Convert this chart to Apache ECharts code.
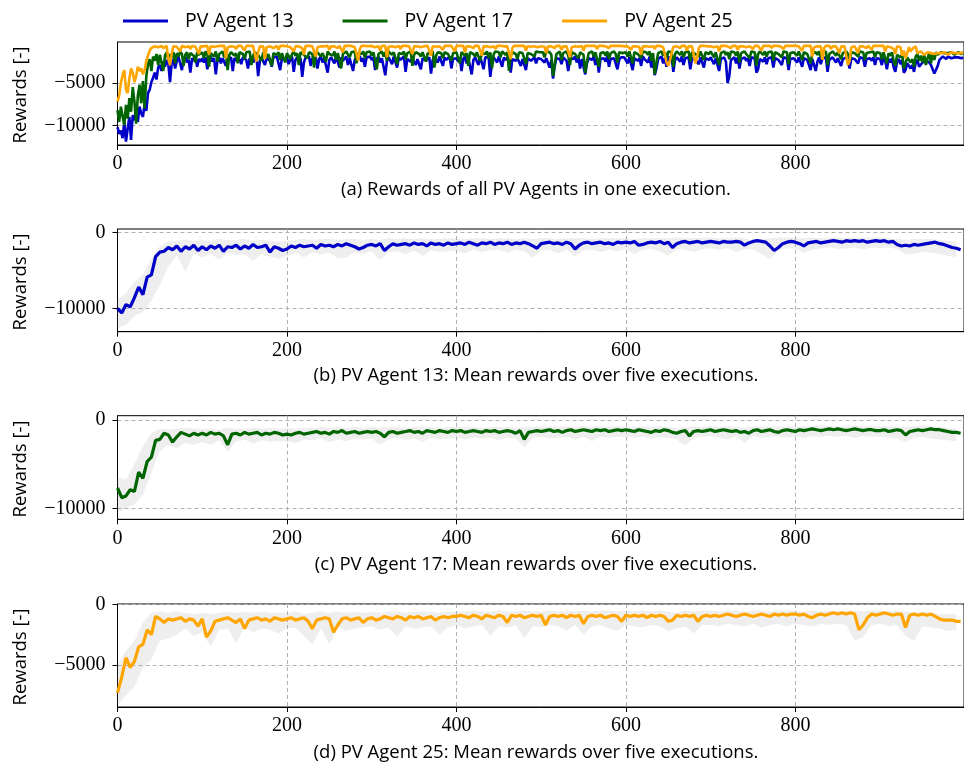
<!DOCTYPE html>
<html><head><meta charset="utf-8">
<script src="https://cdn.jsdelivr.net/npm/echarts@6/dist/echarts.min.js"></script>
<style>html,body{margin:0;padding:0;background:#fff}#c{width:964px;height:763px}</style>
</head><body><div id="c"></div><script>
// ---------- data ----------
const STEP_RUN = 2;      // episode spacing of the single-execution curves (a)
const STEP_MEAN = 5;     // episode spacing of the mean curves (b)-(d)
const STEP_BAND = 10;    // episode spacing of the spread bands
const X_MAX = 999;
const X_TICKS = [0, 200, 400, 600, 800];
const NAMES = ['PV Agent 13', 'PV Agent 17', 'PV Agent 25'];
const Y_LABEL = 'Rewards [-]';
const CAPTIONS = [
  '(a) Rewards of all PV Agents in one execution.',
  '(b) PV Agent 13: Mean rewards over five executions.',
  '(c) PV Agent 17: Mean rewards over five executions.',
  '(d) PV Agent 25: Mean rewards over five executions.'
];
const Y_TICKS = [[-10000, -5000], [-10000, 0], [-10000, 0], [-5000, 0]];
const Y_RANGES = [[-12310, -190], [-13070, 430], [-11245, 487], [-8460, 28]];

// (a) one execution, every 2nd episode
const runA13 = [
-10200,-11000,-10600,-11500,-9600,-11900,-10400,-9000,-11700,-8800,
-9400,-8200,-9600,-7800,-8600,-9000,-7500,-8300,-6200,-5800,
-4900,-4400,-3800,-4600,-3200,-2900,-3600,-2500,-3100,-2300,
-2800,-4900,-2600,-2200,-3300,-2400,-2000,-2700,-3500,-2200,
-1900,-2600,-2300,-3800,-2100,-2400,-2000,-3100,-2200,-2500,
-2100,-2600,-2000,-3400,-2200,-1900,-2500,-2100,-4000,-2300,
-2000,-2700,-2100,-1900,-3000,-2200,-2400,-2000,-3600,-2100,
-1900,-2500,-2200,-2800,-2000,-1900,-2300,-3300,-2100,-2000,
-2600,-2200,-1900,-4200,-2400,-2000,-2200,-2900,-2100,-1900,
-2400,-3100,-2000,-2200,-1900,-2700,-3500,-2100,-2000,-2300,
-2000,-2800,-2200,-1900,-3700,-2300,-2000,-2500,-2100,-4300,
-2600,-2000,-2200,-1900,-3000,-2100,-2400,-2000,-3300,-2200,
-1900,-2600,-2100,-2000,-3800,-2300,-2000,-2200,-2700,-1900,
-2100,-3200,-2000,-2400,-2200,-1900,-2900,-2100,-2000,-3600,
-2300,-2000,-2200,-1900,-2500,-2100,-3100,-2000,-2200,-1900,
-2300,-2000,-3500,-2200,-1900,-2600,-2100,-2000,-4100,-2400,
-2000,-2200,-2800,-1900,-2100,-3200,-2000,-2300,-2100,-1900,
-3700,-2200,-2000,-2500,-2100,-1900,-2900,-2200,-2000,-3400,
-2100,-1900,-2400,-2200,-2000,-3900,-2300,-2000,-2200,-2600,
-1900,-2100,-3000,-2000,-2300,-2100,-1900,-3300,-2200,-2000,
-2100,-2500,-2000,-3600,-2200,-1900,-2700,-2100,-2000,-4000,
-2300,-2000,-2200,-2900,-1900,-2100,-3400,-2000,-2200,-2000,
-4300,-2500,-2000,-2200,-2600,-1900,-2100,-3100,-2000,-2300,
-2100,-1900,-3800,-2200,-2000,-2400,-2100,-1900,-3000,-2200,
-2000,-3500,-2100,-1900,-2400,-2200,-2000,-2700,-2100,-1900,
-2200,-2000,-2600,-2100,-2000,-3200,-2300,-4500,-3000,-2100,
-2000,-2200,-2800,-2000,-1900,-2400,-3600,-2100,-2000,-2200,
-1900,-2600,-2000,-3300,-2200,-2000,-4000,-2700,-2100,-2000,
-2300,-1900,-2900,-2100,-3800,-2200,-2000,-2100,-2500,-1900,
-3100,-2200,-2000,-2100,-1900,-3400,-2300,-2000,-2200,-2000,
-2100,-2700,-2000,-2200,-3500,-2100,-2000,-2400,-2100,-3000,
-1900,-2200,-2000,-2600,-1900,-3200,-2200,-4100,-3300,-2200,
-2000,-1900,-2700,-2100,-3100,-2000,-2200,-2000,-3700,-2300,
-2000,-2100,-2500,-1900,-2900,-2100,-2200,-2000,-3400,-2100,
-1900,-2300,-2100,-2800,-2000,-2200,-3200,-2100,-2000,-2300,
-2000,-2200,-2800,-2100,-2000,-3600,-2200,-2100,-2000,-2500,
-5000,-4200,-2300,-2100,-2000,-2700,-2000,-3300,-2200,-2100,
-2000,-2400,-2100,-3000,-2000,-2200,-2100,-3800,-3400,-2200,
-2000,-2500,-2000,-2800,-2100,-2200,-2000,-3200,-2100,-2000,
-2300,-2100,-2900,-2000,-2200,-2100,-3500,-2200,-2000,-2100,
-2100,-2600,-2000,-2200,-3100,-2100,-2000,-2300,-2100,-3500,
-2200,-2000,-3600,-2500,-2000,-2800,-2100,-2200,-2000,-3700,
-2300,-2100,-2000,-2200,-2600,-2100,-2000,-3000,-2200,-2100,
-2000,-2400,-3300,-2100,-2000,-2200,-2100,-2700,-2000,-2200,
-2100,-3100,-2200,-2000,-2100,-2400,-2000,-2900,-2100,-2000,
-2200,-2900,-2100,-2400,-3400,-2200,-2600,-2100,-3200,-3700,
-2500,-2200,-2800,-2300,-3800,-3500,-2700,-2500,-3300,-2900,
-3700,-2600,-2300,-3100,-3000,-2600,-2800,-2400,-2300,-2600,
-2900,-3400,-3900,-4000,-3000,-2300,-2100,-1900,-2000,-2200,
-1900,-2000,-2100,-1900,-2000,-2200,-2000,-1900,-2100,-2000
];
const runA17 = [
-8200,-9600,-7800,-8900,-10000,-7600,-9200,-6800,-8400,-5500,
-7200,-9800,-6500,-5200,-7400,-4800,-8000,-4200,-2800,-2200,
-3600,-1900,-2400,-1600,-2900,-1700,-1500,-3600,-1800,-1400,
-2300,-1600,-2000,-1400,-2700,-1500,-1900,-1300,-1600,-3000,
-1700,-1400,-2200,-1500,-1300,-1800,-2600,-1400,-1700,-1500,
-1400,-2100,-1300,-1600,-3100,-1500,-1400,-1900,-1300,-2500,
-1600,-1400,-1300,-2000,-1500,-3500,-1700,-1400,-1300,-1800,
-1500,-2700,-1400,-1300,-1600,-2200,-1400,-1500,-1300,-2900,
-1800,-1400,-1300,-1700,-1500,-2400,-1400,-1300,-2000,-1600,
-1400,-3000,-1500,-1300,-1700,-1400,-2300,-1500,-1600,-2600,
-1500,-1400,-2200,-1600,-1300,-1800,-1500,-2900,-1400,-1300,
-1700,-1500,-2100,-1400,-1300,-1600,-3200,-1700,-1400,-1300,
-1900,-1500,-1400,-2500,-1300,-1600,-1400,-1800,-1300,-2300,
-1500,-1400,-3300,-1600,-1400,-1300,-1700,-2000,-1400,-1500,
-1300,-2700,-1500,-1400,-1600,-1300,-2100,-1400,-1500,-1300,
-1800,-1400,-1300,-3400,-1600,-1500,-1300,-1900,-1400,-2400,
-1300,-1500,-1700,-1400,-1300,-2800,-1500,-1400,-1600,-1300,
-2200,-1500,-1400,-1300,-3000,-1700,-1400,-1300,-1600,-1900,
-1400,-1300,-2500,-1500,-1400,-1600,-1300,-3200,-1800,-1400,
-1300,-1500,-2100,-1400,-1300,-1600,-1400,-2400,-1500,-1300,
-1400,-1600,-2700,-1400,-1300,-1800,-1500,-3000,-1400,-1300,
-1600,-1900,-1400,-1300,-2400,-1500,-1400,-1600,-1300,-2100,
-1400,-3300,-1600,-1300,-1500,-1400,-2000,-1300,-1500,-1700,
-1400,-3600,-1800,-1400,-1300,-1600,-2200,-1400,-1300,-1500,
-1400,-2800,-1500,-1300,-1600,-1400,-1900,-1300,-1500,-1400,
-1600,-1400,-2000,-1300,-1500,-1400,-1700,-4200,-2800,-1600,
-1400,-1300,-2300,-1500,-1400,-1300,-1800,-2900,-1400,-1300,
-1600,-1500,-2100,-1400,-1300,-1700,-3800,-2500,-1500,-1400,
-1300,-1900,-1400,-1600,-3100,-1500,-1300,-1400,-1800,-1300,
-2200,-1500,-1400,-1300,-1600,-2600,-1400,-1300,-1500,-1400,
-1400,-1900,-1300,-1500,-2700,-1400,-1300,-1600,-1400,-2100,
-1300,-1500,-1400,-1700,-1300,-2400,-1500,-4000,-2600,-1500,
-1400,-1300,-1800,-1400,-2200,-1300,-1500,-1400,-3100,-1600,
-1300,-1400,-1700,-1300,-2000,-1400,-1500,-1300,-2500,-1400,
-1300,-1600,-1400,-1900,-1300,-1500,-2300,-1400,-1300,-1600,
-1300,-1500,-2000,-1400,-1300,-2900,-1500,-1400,-1300,-1700,
-1400,-2200,-1300,-1500,-1400,-1800,-1300,-2600,-1500,-1400,
-1300,-1600,-1400,-2100,-1300,-1500,-1400,-3000,-1600,-1300,
-1400,-1700,-1300,-1900,-1400,-1500,-1300,-2400,-1400,-1300,
-1600,-1400,-2000,-1300,-1500,-1400,-2800,-1500,-1300,-1400,
-1400,-1800,-1300,-1500,-2300,-1400,-1300,-1600,-1400,-2700,
-1500,-1300,-1400,-1700,-1300,-2000,-1400,-1500,-1300,-2900,
-1600,-1400,-1300,-1500,-1800,-1400,-1300,-2200,-1500,-1400,
-1300,-1600,-2500,-1400,-1300,-1500,-1400,-1900,-1300,-1500,
-1400,-2300,-1500,-1300,-1400,-1600,-1300,-2000,-1400,-1300,
-1500,-2200,-1400,-1600,-2700,-1500,-1800,-1400,-2400,-3000,
-1700,-1500,-2000,-1600,-3300,-2700,-2000,-1800,-2600,-2200,
-3100,-1900,-1600,-2400,-1800,-2600,-1700,-2900,-2100,-1500,
-2700,-1600,-2300,-1400,-1700,-1500,-1400,-1600,-1500,-1400,
-1500,-1600,-1400,-1500,-1700,-1500,-1400,-1500,-1600,-1400
];
const runA25 = [
-7200,-6500,-5000,-4100,-3500,-5800,-6200,-4500,-3300,-3800,
-4900,-4200,-3100,-3600,-3300,-4000,-3500,-2400,-1800,-1200,
-900,-750,-700,-650,-800,-700,-650,-900,-700,-650,
-2200,-2900,-1500,-700,-650,-750,-700,-1300,-650,-700,
-800,-650,-700,-1000,-650,-700,-750,-650,-1600,-700,
-650,-700,-800,-650,-1700,-700,-650,-750,-650,-700,
-900,-650,-700,-650,-2100,-800,-650,-700,-650,-750,
-1000,-650,-700,-650,-700,-1200,-650,-750,-650,-700,
-650,-800,-2500,-1400,-700,-650,-700,-2200,-800,-650,
-700,-650,-900,-700,-650,-1100,-650,-700,-650,-750,
-700,-650,-800,-650,-1300,-700,-650,-700,-650,-900,
-1700,-650,-700,-650,-750,-700,-650,-1900,-800,-650,
-700,-650,-700,-800,-650,-1100,-700,-650,-700,-650,
-900,-650,-700,-1400,-650,-700,-650,-750,-650,-700,
-800,-650,-2400,-1000,-650,-700,-650,-750,-700,-650,
-650,-700,-800,-650,-700,-1200,-650,-700,-650,-2000,
-750,-650,-700,-650,-800,-700,-650,-1000,-650,-700,
-650,-750,-700,-650,-1600,-700,-650,-700,-650,-800,
-650,-700,-900,-650,-700,-1800,-700,-650,-750,-650,
-700,-650,-1100,-650,-700,-650,-800,-650,-700,-1300,
-650,-700,-650,-800,-650,-1400,-700,-650,-700,-650,
-900,-650,-700,-650,-750,-1800,-700,-650,-700,-650,
-800,-650,-700,-1000,-650,-700,-650,-750,-700,-650,
-700,-650,-2200,-900,-650,-700,-650,-800,-650,-700,
-650,-1200,-700,-650,-750,-650,-700,-650,-800,-650,
-700,-650,-750,-1500,-700,-650,-700,-650,-900,-650,
-700,-650,-1100,-700,-650,-700,-650,-2000,-800,-650,
-700,-650,-750,-700,-650,-1200,-650,-700,-650,-800,
-650,-700,-650,-1000,-650,-700,-650,-750,-700,-650,
-900,-650,-700,-650,-800,-650,-700,-650,-750,-700,
-650,-700,-650,-1100,-700,-650,-700,-650,-800,-1700,
-700,-650,-700,-650,-750,-650,-700,-1000,-650,-700,
-650,-700,-800,-650,-2600,-3000,-2300,-1500,-750,-650,
-700,-650,-900,-650,-700,-650,-1200,-700,-650,-700,
-650,-2700,-2000,-900,-650,-700,-650,-750,-700,-650,
-700,-650,-800,-650,-700,-1300,-650,-700,-650,-750,
-700,-650,-900,-650,-700,-650,-1100,-700,-650,-700,
-650,-800,-650,-700,-650,-1000,-650,-700,-650,-750,
-1200,-650,-700,-650,-700,-650,-900,-650,-700,-650,
-800,-700,-650,-1000,-650,-700,-650,-750,-650,-700,
-650,-800,-700,-650,-1200,-650,-700,-650,-750,-650,
-1900,-800,-650,-700,-650,-700,-2300,-900,-650,-700,
-650,-1000,-700,-650,-700,-650,-1500,-700,-650,-700,
-650,-2900,-2400,-800,-650,-700,-650,-1500,-700,-650,
-700,-650,-900,-650,-700,-1100,-650,-700,-650,-750,
-650,-700,-650,-1300,-700,-650,-800,-650,-1000,-1600,
-700,-650,-800,-1800,-1200,-2100,-1500,-800,-1300,-1000,
-1200,-700,-1500,-1600,-1300,-1400,-1700,-1500,-1400,-1600,
-1500,-1400,-1600,-1700,-1500,-1400,-1500,-1600,-1400,-1500,
-1700,-1500,-1400,-1600,-1500,-1400,-1500,-1600,-1500,-1400
];

// (b)-(d) mean over five executions, every 5th episode
const meanB13 = [
-10000,-10600,-9500,-9800,-8600,-7200,-8200,-5900,-5600,-3200,-2600,-2500,-2000,-2300,-1800,-2500,-1900,-2200,-1700,-2400,
-1900,-2300,-1800,-2100,-1700,-2500,-1900,-2000,-1700,-2200,-1800,-2100,-1600,-2000,-1900,-1700,-2600,-1900,-2100,-2400,
-2200,-1800,-2000,-1700,-1900,-1800,-1700,-2100,-1600,-1800,-1700,-1900,-1600,-1800,-1500,-1700,-1900,-2200,-2000,-1700,
-1600,-1800,-1500,-2400,-1900,-1500,-1700,-1600,-1500,-1700,-1400,-1600,-1500,-1800,-1400,-1600,-1500,-1700,-1400,-1600,
-1500,-1400,-1600,-1300,-1500,-1700,-1400,-1500,-1300,-1600,-1400,-1500,-1300,-1600,-1400,-1500,-1300,-1500,-1800,-2100,
-1500,-1400,-1300,-1500,-1400,-1600,-1300,-1500,-2200,-1700,-1400,-1300,-1500,-1400,-1300,-1500,-1400,-1600,-1300,-1400,
-1300,-1400,-1200,-1700,-1600,-1400,-1300,-1400,-1200,-1500,-1300,-2000,-1500,-1300,-1200,-1400,-1300,-1200,-1400,-1300,
-1200,-1300,-1400,-1200,-1300,-1300,-1200,-1300,-1700,-1400,-1200,-1100,-1200,-1300,-1800,-2400,-2000,-1500,-1300,-1200,
-1300,-1500,-1800,-1400,-1300,-1200,-1400,-1300,-1200,-1100,-1200,-1300,-1100,-1200,-1100,-1200,-1100,-1300,-1200,-1100,
-1200,-1100,-1300,-1200,-1600,-1800,-1700,-1800,-1600,-1700,-1600,-1500,-1400,-1300,-1500,-1600,-1800,-2000,-2100,-2300
];
const meanC17 = [
-7700,-8800,-8600,-7900,-8100,-5900,-6600,-4700,-4200,-2300,-2200,-1500,-1700,-2500,-1900,-1400,-1600,-1800,-1500,-1700,
-1500,-1700,-1400,-1600,-1500,-1800,-2800,-1600,-1500,-1700,-1400,-1600,-1500,-1400,-1700,-1500,-1600,-1400,-1500,-1700,
-1600,-1700,-1500,-1400,-1600,-1500,-1400,-1300,-1500,-1400,-1600,-1300,-1400,-1200,-1500,-1400,-1300,-1500,-1400,-1300,
-1400,-1300,-1500,-1900,-1400,-1300,-1500,-1400,-1300,-1200,-1400,-1300,-1500,-1200,-1300,-1400,-1200,-1300,-1400,-1200,
-1300,-1200,-1400,-1300,-1200,-1300,-1400,-1200,-1300,-1200,-1400,-1300,-1200,-1300,-1500,-1200,-2200,-1400,-1300,-1200,
-1300,-1200,-1100,-1300,-1200,-1400,-1200,-1100,-1300,-1200,-1100,-1200,-1300,-1100,-1200,-1100,-1300,-1200,-1100,-1200,
-1100,-1200,-1300,-1100,-1200,-1300,-1400,-1200,-1300,-1100,-1200,-1400,-1500,-1300,-1200,-1800,-1300,-1200,-1300,-1200,
-1100,-1300,-1200,-1100,-1200,-1300,-1200,-1400,-1300,-1500,-1200,-1100,-1300,-1200,-1100,-1300,-1400,-1200,-1100,-1200,
-1300,-1100,-1200,-1100,-1000,-1100,-1200,-1100,-1000,-1100,-1000,-1100,-1200,-1100,-1000,-1100,-1200,-1100,-1100,-1200,
-1200,-1100,-1300,-1200,-1100,-1200,-1700,-1300,-1200,-1100,-1200,-1100,-1000,-1100,-1100,-1200,-1300,-1400,-1400,-1500
];
const meanD25 = [
-7300,-6000,-4400,-5200,-4700,-3500,-3300,-2100,-2500,-1000,-1200,-1500,-1200,-1300,-1200,-1100,-1400,-1200,-1300,-1800,
-1200,-2700,-2200,-1400,-1300,-1200,-1100,-1300,-1500,-1200,-2000,-1300,-1200,-1100,-1300,-1200,-1400,-1100,-1200,-1300,
-1200,-1100,-1300,-1200,-1100,-1400,-2000,-1300,-1200,-1100,-1200,-2300,-1700,-1200,-1100,-1300,-1200,-1100,-1500,-1200,
-1100,-1300,-1200,-1000,-1100,-1200,-1000,-1100,-1300,-1000,-1100,-1000,-1200,-1100,-1000,-1300,-1100,-1000,-1100,-1000,
-1000,-900,-1000,-1100,-900,-1000,-1200,-900,-1000,-1100,-900,-1000,-1500,-900,-1000,-900,-1100,-1000,-900,-1000,
-900,-1700,-1000,-900,-1000,-900,-1100,-900,-1000,-900,-1600,-1000,-900,-1000,-900,-1100,-1000,-900,-1000,-1400,
-900,-1000,-900,-1000,-900,-1100,-900,-1000,-900,-1000,-1400,-1300,-900,-1000,-900,-1000,-900,-1400,-1000,-900,
-1000,-900,-1000,-900,-800,-900,-1000,-900,-800,-900,-1000,-900,-800,-900,-1000,-800,-900,-800,-900,-800,
-800,-900,-800,-1000,-1100,-900,-800,-900,-800,-700,-800,-700,-800,-700,-800,-2100,-1700,-1100,-800,-900,
-800,-700,-800,-900,-800,-800,-1900,-900,-800,-900,-800,-900,-800,-1000,-1200,-1300,-1300,-1300,-1400,-1400
];

// spread of the five executions (upper / lower envelope), every 10th episode
const upB13 = [
-8800,-8000,-6500,-5500,-3500,-1800,-1200,-1100,-1000,-1100,
-1000,-1100,-900,-1000,-1000,-900,-1100,-1000,-1100,-1200,
-1100,-1000,-900,-1000,-900,-900,-1000,-900,-900,-1000,
-900,-1000,-800,-900,-800,-900,-800,-900,-900,-800,
-800,-900,-800,-800,-900,-800,-800,-900,-800,-900,
-800,-800,-900,-800,-800,-800,-900,-800,-800,-800,
-800,-900,-800,-800,-800,-800,-700,-800,-800,-700,
-700,-800,-800,-700,-800,-1100,-900,-800,-700,-700,
-700,-800,-700,-800,-700,-700,-800,-700,-700,-700,
-700,-800,-900,-1000,-900,-900,-900,-1000,-1100,-1200
];
const loB13 = [
-12600,-12200,-11000,-10500,-9000,-7000,-4500,-3000,-5200,-2800,
-3300,-2800,-3600,-2700,-3000,-2900,-3800,-2800,-3200,-3500,
-3100,-2700,-3300,-2600,-2900,-2700,-3400,-3300,-2600,-2800,
-2500,-3600,-2600,-2500,-2900,-2400,-3100,-2400,-2600,-2500,
-2400,-2800,-2300,-2600,-2400,-2300,-2700,-2300,-2500,-3300,
-2400,-2300,-2800,-2300,-3200,-2400,-2300,-2600,-2300,-2500,
-2200,-2900,-2300,-2200,-2500,-3100,-2200,-2300,-2600,-2200,
-2100,-2300,-2100,-2600,-2200,-2300,-2900,-3500,-2400,-2100,
-2200,-2700,-2300,-2100,-2000,-2200,-2100,-2000,-2300,-2000,
-2100,-2000,-2200,-2900,-2800,-2600,-2700,-2900,-3100,-3300
];
const upC17 = [
-6500,-6800,-5000,-3000,-1500,-1000,-1100,-1000,-900,-1000,
-1000,-1000,-1100,-900,-1000,-1000,-900,-1000,-900,-1000,
-900,-1000,-900,-900,-800,-900,-800,-900,-800,-900,
-800,-900,-800,-800,-900,-800,-800,-800,-900,-800,
-800,-800,-800,-900,-800,-800,-800,-900,-800,-800,
-700,-800,-800,-700,-800,-700,-800,-700,-800,-700,
-700,-800,-700,-800,-700,-800,-900,-800,-700,-800,
-700,-800,-700,-800,-900,-700,-800,-700,-700,-800,
-700,-700,-700,-600,-700,-700,-700,-600,-700,-700,
-700,-700,-800,-800,-700,-600,-700,-800,-900,-1000
];
const loC17 = [
-10500,-10000,-9500,-8500,-6000,-3500,-2800,-3200,-2600,-2800,
-2500,-2800,-2300,-3600,-2400,-2200,-2700,-2300,-2500,-2400,
-2400,-2600,-2200,-2300,-2100,-2500,-2200,-2400,-2100,-2200,
-2100,-2800,-2200,-2000,-2300,-2100,-2500,-2000,-2200,-2100,
-2000,-2200,-2000,-2100,-2000,-2300,-2000,-2100,-3100,-2000,
-1900,-2100,-2000,-1900,-2200,-1900,-2400,-1900,-2000,-1900,
-1900,-2000,-1900,-2100,-1900,-2000,-2200,-2900,-2000,-1900,
-1800,-2000,-2200,-1900,-2600,-1800,-2000,-1900,-1800,-2000,
-1900,-2000,-1800,-1900,-1800,-1900,-1800,-2000,-1800,-1900,
-1900,-2000,-2100,-2500,-2000,-1900,-2100,-2200,-2300,-2400
];
const upD25 = [
-5000,-3800,-3000,-1500,-700,-600,-700,-600,-700,-800,
-700,-800,-700,-600,-700,-600,-700,-600,-700,-700,
-700,-600,-800,-700,-600,-700,-600,-700,-600,-700,
-600,-700,-600,-600,-700,-600,-600,-600,-700,-600,
-600,-600,-500,-600,-600,-500,-600,-600,-500,-600,
-600,-500,-600,-500,-600,-500,-600,-500,-500,-600,
-500,-600,-500,-600,-500,-600,-700,-500,-600,-500,
-500,-600,-500,-500,-600,-500,-500,-600,-500,-500,
-500,-600,-500,-600,-500,-600,-500,-500,-600,-500,
-500,-600,-500,-600,-700,-600,-700,-800,-800,-800
];
const loD25 = [
-8300,-7500,-6800,-5200,-4500,-3000,-2800,-2500,-2000,-2600,
-2300,-3500,-2100,-2000,-3200,-1900,-2300,-2000,-2100,-2400,
-2000,-1900,-2600,-3300,-2000,-3300,-1900,-2200,-2000,-1900,
-1800,-2100,-1900,-2700,-1800,-2000,-1900,-1800,-2500,-1900,
-1700,-2000,-1800,-1700,-2600,-1800,-1900,-1700,-2800,-1800,
-1900,-1700,-1800,-2200,-1700,-2500,-1800,-1700,-2000,-2200,
-1700,-1800,-1900,-1700,-1800,-2200,-2000,-1800,-2400,-1700,
-1700,-1800,-1600,-1700,-1800,-1600,-1900,-1700,-1600,-1800,
-1600,-1700,-1800,-1600,-1700,-1600,-1700,-3000,-2700,-1700,
-1600,-1800,-1700,-2600,-3000,-1800,-1900,-2000,-2200,-2100
];

// ---------- styling ----------
const COLORS = ['#0000c8', '#006400', '#ffa500'];
const BAND_COLOR = 'rgba(170,170,170,0.2)';
const SERIF = '"Liberation Serif", "DejaVu Serif", serif';
const SANS = '"Open Sans", "Noto Sans", "DejaVu Sans", sans-serif';
const GRIDS = [
  {left: 117.5, top: 42, width: 854, height: 103},
  {left: 117.5, top: 229, width: 854, height: 102.7},
  {left: 117.5, top: 415.7, width: 854, height: 103.6},
  {left: 117.5, top: 604, width: 854, height: 103}
];
const CAPTION_Y = [190, 376, 565, 753];
const YLABEL_Y = [95, 282, 469, 657];

const minus = v => String(v).replace('-', '\u2212');
const splitLine = {show: true, lineStyle: {color: '#b0b0b0', type: [4, 3], width: 1}};

const xAxis = GRIDS.map((g, i) => ({
  type: 'value', gridIndex: i, min: 0, max: X_MAX,
  axisLine: {show: true, onZero: false, lineStyle: {color: '#000', width: 1}},
  axisTick: {show: true, length: 5, customValues: X_TICKS, lineStyle: {color: '#000'}},
  axisLabel: {customValues: X_TICKS, margin: 9, color: '#000', fontFamily: SERIF, fontSize: 20, formatter: minus},
  splitLine: splitLine
}));
const yAxis = GRIDS.map((g, i) => ({
  type: 'value', gridIndex: i, min: Y_RANGES[i][0], max: Y_RANGES[i][1],
  axisLine: {show: true, onZero: false, lineStyle: {color: '#000', width: 1}},
  axisTick: {show: true, length: 5, customValues: Y_TICKS[i], lineStyle: {color: '#000'}},
  axisLabel: {customValues: Y_TICKS[i], margin: 12, color: '#000', fontFamily: SERIF, fontSize: 20, formatter: minus},
  splitLine: splitLine
}));

const pts = (arr, step) => arr.map((v, i) => [i * step, v]);
const series = [];
[runA13, runA17, runA25].forEach((arr, k) => {
  series.push({
    name: NAMES[k], type: 'line', xAxisIndex: 0, yAxisIndex: 0,
    data: pts(arr, STEP_RUN), symbol: 'none', silent: true,
    lineStyle: {color: COLORS[k], width: 2.6}, itemStyle: {color: COLORS[k]}, z: 2 + k
  });
});
const MEANS = [meanB13, meanC17, meanD25];
const UPS = [upB13, upC17, upD25];
const LOS = [loB13, loC17, loD25];
for (let k = 0; k < 3; k++) {
  const gi = k + 1;
  const bandData = LOS[k].map((v, i) => [i * STEP_BAND, v, UPS[k][i]]);
  series.push({
    name: 'band' + gi, type: 'custom', xAxisIndex: gi, yAxisIndex: gi,
    data: bandData, encode: {x: 0, y: [1, 2]}, silent: true, clip: true, z: 1,
    renderItem: (params, api) => {
      if (params.dataIndex !== 0) return null;
      const top = bandData.map(d => api.coord([d[0], d[2]]));
      const bot = bandData.map(d => api.coord([d[0], d[1]])).reverse();
      return {type: 'polygon', shape: {points: top.concat(bot)}, style: {fill: BAND_COLOR, stroke: null}};
    }
  });
  series.push({
    name: 'mean' + gi, type: 'line', xAxisIndex: gi, yAxisIndex: gi,
    data: pts(MEANS[k], STEP_MEAN), symbol: 'none', silent: true,
    lineStyle: {color: COLORS[k], width: 3.2}, z: 3
  });
}

const graphic = [];
CAPTIONS.forEach((t, i) => graphic.push({
  type: 'text', x: 536, y: CAPTION_Y[i],
  style: {text: t, fill: '#000', font: '18.5px ' + SANS, textAlign: 'center', textVerticalAlign: 'middle'}
}));
YLABEL_Y.forEach(y => graphic.push({
  type: 'text', x: 21, y: y, rotation: Math.PI / 2,
  style: {text: Y_LABEL, fill: '#000', font: '18.5px ' + SANS, textAlign: 'center', textVerticalAlign: 'middle'}
}));

const chart = echarts.init(document.getElementById('c'), null, {renderer: 'canvas'});
chart.setOption({
  animation: false,
  backgroundColor: '#fff',
  grid: GRIDS.map(g => Object.assign({show: true, borderColor: '#000', borderWidth: 1, backgroundColor: 'transparent'}, g)),
  legend: {
    data: NAMES, left: 118, top: 6, icon: 'rect', itemWidth: 45, itemHeight: 3, itemGap: 49,
    textStyle: {fontFamily: SANS, fontSize: 19.5, color: '#000', padding: [0, 0, 0, 12]}
  },
  xAxis, yAxis, series, graphic
});
</script></body></html>
